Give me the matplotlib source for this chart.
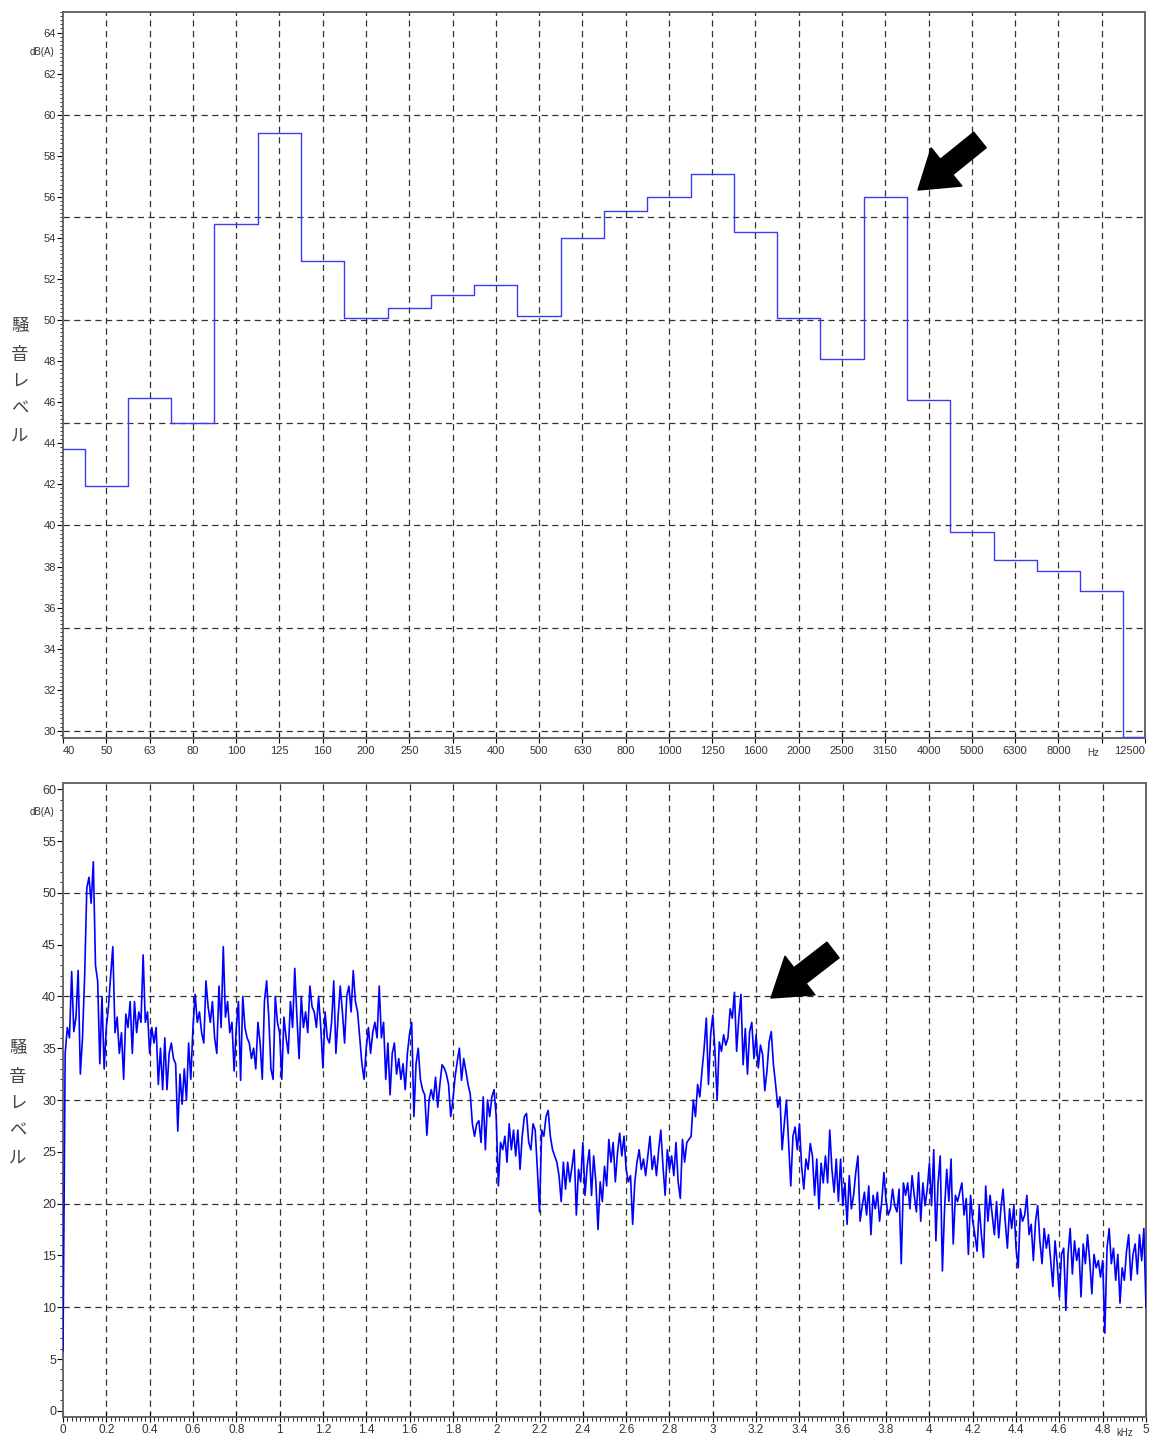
import numpy as np
import matplotlib.pyplot as plt
from matplotlib.ticker import MultipleLocator

plt.rcParams['font.family'] = ['Liberation Sans', 'Noto Sans CJK JP', 'DejaVu Sans']

# 1/3 octave band levels, dB(A)
bands = ['40', '50', '63', '80', '100', '125', '160', '200', '250', '315', '400', '500', '630',
         '800', '1000', '1250', '1600', '2000', '2500', '3150', '4000', '5000', '6300', '8000',
         '10000', '12500']
band_level = [43.7, 41.9, 46.2, 45.0, 54.7, 59.1, 52.9, 50.1, 50.6, 51.2, 51.7, 50.2, 54.0,
              55.3, 56.0, 57.1, 54.3, 50.1, 48.1, 56.0, 46.1, 39.7, 38.3, 37.8, 36.8, 29.7]

# FFT spectrum, 10 Hz lines from 0 to 5 kHz
freq_step_khz = 0.01
spectrum_db = [
    5.8, 34.5, 37.0, 36.0, 42.4, 36.6, 38.0, 42.5, 32.5, 36.0,
    42.0, 50.5, 51.5, 49.0, 53.0, 43.0, 41.5, 33.5, 40.0, 33.0,
    37.0, 39.0, 42.0, 44.8, 36.5, 38.0, 34.5, 36.5, 32.0, 38.3,
    37.0, 39.5, 34.5, 39.5, 36.5, 38.5, 37.5, 44.0, 37.5, 38.5,
    34.5, 37.0, 35.5, 37.0, 31.5, 35.0, 31.0, 36.0, 31.0, 34.5,
    35.5, 34.0, 33.5, 27.0, 32.5, 29.6, 33.0, 30.0, 35.5, 32.0,
    37.0, 40.2, 37.5, 38.5, 36.5, 35.5, 41.5, 39.0, 37.5, 39.5,
    36.0, 34.5, 41.0, 37.0, 44.8, 38.0, 39.5, 36.5, 37.5, 32.8,
    37.0, 39.5, 31.9, 40.0, 37.0, 36.0, 35.5, 34.0, 35.0, 33.0,
    37.5, 35.5, 32.0, 39.5, 41.5, 38.0, 33.0, 32.0, 40.0, 37.5,
    36.5, 32.0, 38.0, 36.0, 34.5, 39.5, 37.0, 42.7, 38.0, 34.0,
    40.0, 37.0, 38.5, 36.5, 41.0, 39.0, 38.5, 37.0, 40.0, 37.0,
    33.1, 38.5, 36.0, 35.5, 37.5, 41.5, 34.5, 38.0, 41.0, 38.5,
    35.5, 40.0, 41.0, 38.5, 42.5, 39.5, 38.5, 36.0, 33.5, 32.0,
    35.0, 37.0, 34.5, 36.5, 37.5, 36.0, 41.0, 36.0, 37.5, 32.0,
    35.5, 30.5, 34.5, 35.5, 32.5, 34.0, 32.0, 33.5, 31.0, 34.5,
    36.4, 37.5, 28.4, 33.5, 35.0, 32.0, 31.0, 30.5, 26.6, 30.0,
    31.0, 30.0, 32.2, 29.3, 31.5, 33.4, 33.1, 32.5, 31.5, 28.4,
    30.0, 32.2, 33.7, 35.0, 31.9, 34.0, 32.8, 31.5, 30.6, 27.7,
    26.5, 27.7, 28.0, 25.9, 30.3, 25.2, 30.0, 28.4, 30.3, 31.0,
    28.4, 21.7, 25.9, 25.2, 26.5, 24.0, 27.7, 25.2, 27.1, 24.6,
    27.1, 23.3, 26.5, 28.4, 28.7, 25.9, 25.2, 27.7, 27.1, 23.3,
    19.2, 27.1, 26.5, 28.4, 29.0, 26.5, 25.2, 24.6, 24.0, 22.7,
    20.2, 24.0, 21.4, 24.0, 22.1, 23.6, 25.2, 18.9, 23.3, 22.1,
    25.9, 20.8, 23.6, 25.2, 20.8, 24.6, 22.1, 17.5, 22.1, 20.2,
    23.6, 21.7, 26.2, 24.0, 25.9, 22.1, 24.9, 26.8, 24.6, 26.5,
    23.3, 22.1, 22.7, 18.0, 22.1, 24.0, 25.2, 23.3, 24.3, 22.7,
    24.6, 26.5, 23.3, 24.6, 22.7, 25.2, 27.1, 23.6, 20.8, 25.2,
    23.3, 24.6, 22.7, 25.9, 22.1, 20.5, 26.2, 24.0, 25.9, 26.2,
    26.5, 30.0, 28.4, 31.5, 30.3, 32.8, 35.0, 37.9, 31.5, 36.3,
    38.2, 34.7, 30.0, 35.6, 34.7, 36.3, 35.3, 36.0, 38.8, 37.9,
    40.4, 34.7, 37.9, 40.2, 33.4, 36.9, 32.5, 36.6, 37.5, 34.0,
    36.3, 33.1, 35.3, 34.4, 30.9, 32.8, 35.6, 36.6, 33.4, 31.5,
    29.3, 30.3, 25.2, 27.7, 30.0, 25.9, 21.7, 26.5, 27.4, 25.2,
    27.7, 23.6, 21.4, 24.3, 23.3, 25.8, 24.6, 20.8, 24.3, 19.5,
    23.9, 22.0, 24.6, 22.0, 27.1, 23.3, 21.1, 24.3, 20.2, 24.3,
    19.8, 22.0, 18.0, 22.7, 19.5, 20.8, 23.0, 24.6, 18.3, 19.8,
    21.1, 18.9, 21.7, 17.0, 20.8, 19.5, 21.1, 18.3, 20.2, 23.0,
    20.2, 18.9, 19.5, 21.4, 19.8, 19.2, 21.4, 14.2, 22.0, 20.8,
    22.0, 19.5, 22.7, 20.8, 19.2, 23.0, 18.3, 22.0, 19.8, 21.4,
    23.9, 19.8, 25.2, 16.4, 22.0, 24.6, 13.5, 19.5, 23.3, 20.2,
    24.3, 16.1, 20.8, 20.2, 21.1, 22.0, 18.9, 20.5, 15.1, 20.8,
    18.3, 17.0, 15.4, 19.8, 17.0, 14.8, 21.7, 18.3, 20.8, 18.9,
    17.0, 20.2, 16.7, 19.5, 21.4, 18.3, 15.7, 19.5, 17.6, 19.8,
    15.7, 13.8, 19.5, 18.3, 18.9, 20.8, 17.0, 18.0, 14.5, 18.3,
    19.8, 16.4, 14.2, 17.6, 15.7, 17.0, 14.5, 12.0, 16.4, 14.2,
    11.0, 15.1, 15.7, 9.7, 15.1, 17.6, 13.2, 16.4, 14.5, 15.7,
    11.0, 16.1, 14.2, 17.0, 14.5, 11.3, 15.1, 13.8, 14.5, 12.9,
    14.5, 7.5, 15.7, 17.6, 14.2, 15.7, 12.6, 15.1, 10.4, 13.8,
    12.6, 15.4, 17.0, 12.6, 15.1, 16.1, 13.2, 17.0, 14.5, 17.6,
    10.0,
]
freq_khz = np.arange(len(spectrum_db)) * freq_step_khz

W, H = 1150, 1437
fig = plt.figure(figsize=(W / 100, H / 100), dpi=100)
ax1 = fig.add_axes([63 / W, 1 - 738 / H, 1082 / W, 726 / H])
ax2 = fig.add_axes([63 / W, 1 - 1416.5 / H, 1083 / W, 633.5 / H])

grid_kw = dict(color='#333333', lw=0.9, linestyle=(0, (5, 3.5)), zorder=1)
label_color = '#333333'

# ---- top: 1/3 octave band spectrum ----
idx = np.arange(len(bands))
ax1.step(idx, band_level, where='mid', color='#3b3bf2', lw=1.0, zorder=3)
ax1.set_xlim(0, len(bands) - 1)
ax1.set_ylim(29.65, 65)
ax1.set_xticks(idx)
xlabels = list(bands)
xlabels[-2] = ''
ax1.set_xticklabels(xlabels, fontsize=8, color=label_color)
tl = ax1.get_xticklabels()
tl[0].set_ha('left')
tl[-1].set_ha('right')
ax1.text(23.8, -0.021, 'Hz', transform=ax1.get_xaxis_transform(), fontsize=7,
         ha='center', va='center', color=label_color)
ax1.set_yticks(np.arange(30, 65, 2))
ax1.yaxis.set_minor_locator(MultipleLocator(0.2))
ax1.tick_params(axis='y', which='major', labelsize=8, labelcolor=label_color,
                length=4, direction='out', pad=1)
ax1.tick_params(axis='y', which='minor', length=2.5, direction='out')
ax1.tick_params(axis='x', which='major', length=7, direction='inout', pad=2)
for y in range(30, 61, 5):
    ax1.axhline(y, **grid_kw)
for i in idx[1:-1]:
    ax1.axvline(i, **grid_kw)

# ---- bottom: narrow band spectrum ----
ax2.plot(freq_khz, spectrum_db, color='#0000ff', lw=1.2, zorder=3)
ax2.set_xlim(0, 5)
ax2.set_ylim(-0.55, 60.6)
xt = np.round(np.arange(0, 5.01, 0.2), 1)
ax2.set_xticks(xt)
ax2.set_xticklabels([f'{v:g}' for v in xt], fontsize=8.5, color=label_color)
ax2.xaxis.set_minor_locator(MultipleLocator(0.02))
ax2.set_yticks(np.arange(0, 61, 5))
ax2.yaxis.set_minor_locator(MultipleLocator(1))
ax2.tick_params(axis='y', which='major', labelsize=9, labelcolor=label_color,
                length=4, direction='out', pad=1)
ax2.tick_params(axis='y', which='minor', length=2.5, direction='out')
ax2.tick_params(axis='x', which='major', length=7, direction='inout', pad=2)
ax2.tick_params(axis='x', which='minor', length=3, direction='out')
ax2.text(4.9, -0.026, 'kHz', transform=ax2.get_xaxis_transform(), fontsize=7,
         ha='center', va='center', color=label_color)
for y in range(10, 51, 10):
    ax2.axhline(y, **grid_kw)
for v in xt[1:-1]:
    ax2.axvline(v, **grid_kw)

for ax in (ax1, ax2):
    for s in ax.spines.values():
        s.set_color('#666666')
        s.set_linewidth(1.4)

# units and axis titles
fig.text(54 / W, 1 - 52 / H, 'dB(A)', ha='right', va='center', fontsize=7, color=label_color)
fig.text(54 / W, 1 - 812 / H, 'dB(A)', ha='right', va='center', fontsize=7, color=label_color)
ylab = '\n'.join('騒音レベル')
fig.text(20 / W, 1 - 381 / H, ylab, ha='center', va='center', fontsize=12.5,
         linespacing=2.0, color='#444444')
fig.text(18 / W, 1 - 1103 / H, ylab, ha='center', va='center', fontsize=12.5,
         linespacing=2.0, color='#444444')

# arrows pointing at the peaks
arrow_kw = dict(arrowstyle='simple,head_length=1.2,head_width=1.6,tail_width=0.65',
                fc='black', ec='black', shrinkA=0, shrinkB=0, mutation_scale=22)
ax1.annotate('', xy=(918, H - 190), xycoords='figure pixels',
             xytext=(980, H - 140), textcoords='figure pixels',
             arrowprops=arrow_kw, annotation_clip=False)
ax2.annotate('', xy=(771, H - 998), xycoords='figure pixels',
             xytext=(833, H - 950), textcoords='figure pixels',
             arrowprops=arrow_kw, annotation_clip=False)

plt.savefig('out.png', dpi=100)
